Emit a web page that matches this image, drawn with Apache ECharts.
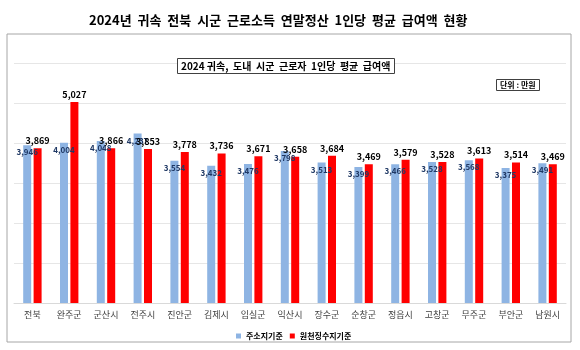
<!DOCTYPE html>
<html>
<head>
<meta charset="utf-8">
<script src="https://cdn.jsdelivr.net/npm/echarts@6/dist/echarts.min.js"></script>
<style>
  html,body{margin:0;padding:0;background:#fff}
  #chart{width:580px;height:350px}
</style>
</head>
<body>
<div id="chart"></div>
<script>
// 시군별 1인당 평균 급여액 (단위: 만원)
const regions=['전북','완주군','군산시','전주시','진안군','김제시','임실군','익산시','장수군','순창군','정읍시','고창군','무주군','부안군','남원시'];
const byAddress=[3946,4004,4048,4237,3554,3432,3476,3798,3513,3399,3466,3528,3568,3375,3491];   // 주소지기준
const byWithholding=[3869,5027,3866,3853,3778,3736,3671,3658,3684,3469,3579,3528,3613,3514,3469]; // 원천징수지기준
const seriesNames=['주소지기준','원천징수지기준'];

const FONT='"Noto Sans CJK KR","Noto Sans",sans-serif';
const fmt=p=>p.value.toLocaleString('en-US');

const chart=echarts.init(document.getElementById('chart'));
chart.setOption({
  backgroundColor:'#fff',
  animation:false,
  textStyle:{fontFamily:FONT},
  title:[
    {text:'2024년  귀속  전북  시군  근로소득  연말정산  1인당  평균  급여액  현황',left:84,top:9,
     textStyle:{fontSize:13,fontWeight:'bold',color:'#000',fontFamily:FONT}},
    {text:'2024 귀속,  도내  시군  근로자  1인당  평균  급여액',left:177,top:58,padding:[3,4],
     borderWidth:1,borderColor:'#404040',backgroundColor:'#fff',
     textStyle:{fontSize:10,fontWeight:'bold',color:'#000',fontFamily:FONT}},
    {text:'단위 : 만원',left:496,top:79,padding:[2,4],
     borderWidth:1,borderColor:'#404040',backgroundColor:'#fff',
     textStyle:{fontSize:8,fontWeight:'bold',color:'#000',fontFamily:FONT}},
  ],
  graphic:[{type:'rect',z:-10,shape:{x:7,y:34,width:564,height:308},
    style:{fill:'#fff',stroke:'#a6a6a6',lineWidth:1}}],
  legend:{data:seriesNames,left:231,top:327,icon:'rect',itemWidth:5,itemHeight:5,itemGap:7,
    textStyle:{fontSize:8,fontWeight:'bold',color:'#000',fontFamily:FONT}},
  grid:{left:14,right:14,top:63,bottom:47},
  xAxis:{type:'category',data:regions,
    axisLine:{lineStyle:{color:'#d9d9d9'}},axisTick:{show:false},
    axisLabel:{fontSize:9,color:'#404040',margin:7,fontFamily:FONT}},
  yAxis:{type:'value',min:0,max:6000,interval:1000,
    axisLabel:{show:false},axisLine:{show:false},axisTick:{show:false},
    splitLine:{lineStyle:{color:'#e6e6e6'}}},
  series:[
    {name:seriesNames[0],type:'bar',data:byAddress,barWidth:8,barGap:'30%',
     itemStyle:{color:'#8eb4e3'},
     label:{show:true,position:'insideTop',distance:3,formatter:fmt,
       fontSize:8,color:'#1f3864',fontWeight:'bold',fontFamily:FONT}},
    {name:seriesNames[1],type:'bar',data:byWithholding,barWidth:8,
     itemStyle:{color:'#ff0000'},
     label:{show:true,position:'top',distance:3,formatter:fmt,
       fontSize:9,color:'#000',fontWeight:'bold',fontFamily:FONT}},
  ],
});
</script>
</body>
</html>
